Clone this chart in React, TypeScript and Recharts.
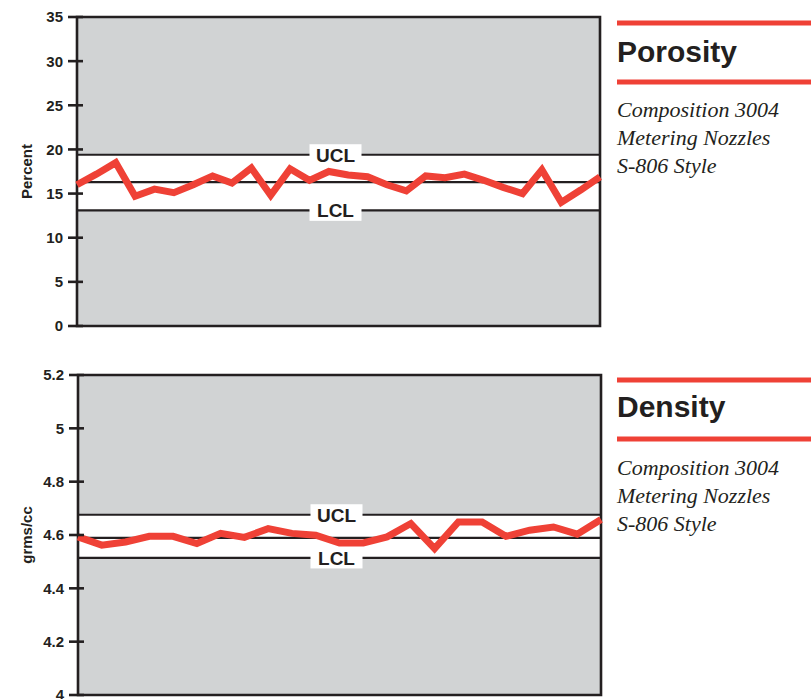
import React from 'react'
import { LineChart, Line, XAxis, YAxis, CartesianGrid, ReferenceArea, ReferenceLine } from 'recharts'

// sample numbers (x categories)
const porositySamples = [1, 2, 3, 4, 5, 6, 7, 8, 9, 10, 11, 12, 13, 14, 15, 16, 17, 18, 19, 20, 21, 22, 23, 24, 25, 26, 27, 28]
const porosityValues = [
  16.0, 17.2, 18.5, 14.7, 15.5, 15.1, 16.0, 17.0, 16.2, 17.9, 14.8, 17.8, 16.5, 17.5,
  17.1, 16.9, 16.0, 15.3, 17.0, 16.8, 17.2, 16.5, 15.7, 15.0, 17.7, 14.0, 15.4, 16.9,
]
const porosityTicks = [0, 5, 10, 15, 20, 25, 30, 35]
const porosityLimits = { ucl: 19.4, center: 16.3, lcl: 13.1 }

const densitySamples = [1, 2, 3, 4, 5, 6, 7, 8, 9, 10, 11, 12, 13, 14, 15, 16, 17, 18, 19, 20, 21, 22, 23]
const densityValues = [
  4.593, 4.562, 4.574, 4.595, 4.595, 4.568, 4.606, 4.591, 4.624, 4.606, 4.599, 4.57,
  4.57, 4.593, 4.643, 4.549, 4.649, 4.649, 4.595, 4.618, 4.63, 4.603, 4.658,
]
const densityTicks = [4, 4.2, 4.4, 4.6, 4.8, 5, 5.2]
const densityLimits = { ucl: 4.676, center: 4.589, lcl: 4.514 }

const captionLines = ['Composition 3004', 'Metering Nozzles', 'S-806 Style']

const RED = '#ef4136'
const GREY = '#d1d3d4'
const INK = '#231f20'
const SANS = '"Liberation Sans", Arial, Helvetica, sans-serif'
const SERIF = '"Liberation Serif", "Times New Roman", serif'

const porosityData = porositySamples.map((s, i) => ({ sample: s, value: porosityValues[i] }))
const densityData = densitySamples.map((s, i) => ({ sample: s, value: densityValues[i] }))

function YTick(props: any) {
  const { x, y, payload } = props
  return (
    <g>
      <line x1={x - 9} x2={x + 6} y1={y} y2={y} stroke={INK} strokeWidth={2.6} />
      <text x={x - 14} y={y} dy="0.36em" textAnchor="end" fontFamily={SANS} fontWeight="bold" fontSize={15} fill={INK}>
        {payload.value}
      </text>
    </g>
  )
}

function LimitLabel(props: any) {
  const { viewBox, text } = props
  const cx = viewBox.x + viewBox.width / 2 - 3
  const cy = viewBox.y
  return (
    <g>
      <rect x={cx - 26} y={cy - 10.5} width={52} height={21} fill="#fff" />
      <text x={cx} y={cy} dy="0.36em" textAnchor="middle" fontFamily={SANS} fontWeight="bold" fontSize={19} fill={INK}>
        {text}
      </text>
    </g>
  )
}

function AxisTitle(props: any) {
  const { viewBox, text } = props
  const cy = viewBox.y + viewBox.height / 2
  return (
    <text
      x={27}
      y={cy}
      transform={`rotate(-90 27 ${cy})`}
      dy="0.36em"
      textAnchor="middle"
      fontFamily={SANS}
      fontWeight="bold"
      fontSize={15}
      fill={INK}
    >
      {text}
    </text>
  )
}

function ControlChart({ data, ticks, domain, limits, title, width, height, margin }: any) {
  return (
    <LineChart width={width} height={height} data={data} margin={margin}>
      <CartesianGrid horizontal={false} vertical={false} fill={GREY} />
      <XAxis dataKey="sample" hide padding={{ left: 0, right: 0 }} />
      <YAxis
        domain={domain}
        ticks={ticks}
        width={77}
        tickSize={0}
        tickMargin={0}
        axisLine={false}
        tick={<YTick />}
        interval={0}
        label={<AxisTitle text={title} />}
      />
      <ReferenceArea y1={limits.lcl} y2={limits.ucl} fill="#ffffff" fillOpacity={1} stroke="none" />
      <ReferenceLine y={limits.center} stroke={INK} strokeWidth={2.2} />
      <ReferenceLine y={limits.ucl} stroke={INK} strokeWidth={2.2} label={<LimitLabel text="UCL" />} />
      <ReferenceLine y={limits.lcl} stroke={INK} strokeWidth={2.2} label={<LimitLabel text="LCL" />} />
      <ReferenceArea y1={domain[0]} y2={domain[1]} fill="none" stroke={INK} strokeWidth={2.6} />
      <Line
        type="linear"
        dataKey="value"
        stroke={RED}
        strokeWidth={7}
        strokeLinejoin="miter"
        dot={false}
        activeDot={false}
        isAnimationActive={false}
      />
    </LineChart>
  )
}

function Caption({ top, heading, ruleTop, headBase, ruleBottom, lineBase }: any) {
  return (
    <svg width={200} height={200} style={{ position: 'absolute', left: 611, top, overflow: 'visible' }}>
      <rect x={6} y={ruleTop} width={194} height={5} fill={RED} />
      <text x={6} y={headBase} fontFamily={SANS} fontWeight="bold" fontSize={30} fill={INK}>
        {heading}
      </text>
      <rect x={6} y={ruleBottom} width={194} height={5} fill={RED} />
      {captionLines.map((line, i) => (
        <text key={line} x={6} y={lineBase + i * 28} fontFamily={SERIF} fontStyle="italic" fontSize={22} fill={INK}>
          {line}
        </text>
      ))}
    </svg>
  )
}

export default function App() {
  return (
    <div style={{ position: 'absolute', left: 0, top: 0, width: 811, height: 699, background: '#fff', overflow: 'hidden' }}>
      <div style={{ position: 'absolute', left: 0, top: 0 }}>
        <ControlChart
          data={porosityData}
          ticks={porosityTicks}
          domain={[0, 35]}
          limits={porosityLimits}
          title="Percent"
          width={610}
          height={340}
          margin={{ top: 17, right: 10, bottom: 14, left: 0 }}
        />
      </div>
      <div style={{ position: 'absolute', left: 0, top: 358 }}>
        <ControlChart
          data={densityData}
          ticks={densityTicks}
          domain={[4, 5.2]}
          limits={densityLimits}
          title="grms/cc"
          width={611}
          height={341}
          margin={{ top: 17, right: 10, bottom: 4, left: 1 }}
        />
      </div>
      <Caption top={0} heading="Porosity" ruleTop={20.5} headBase={62} ruleBottom={79.5} lineBase={117} />
      <Caption top={360} heading="Density" ruleTop={17.5} headBase={57} ruleBottom={76.5} lineBase={115} />
    </div>
  )
}
